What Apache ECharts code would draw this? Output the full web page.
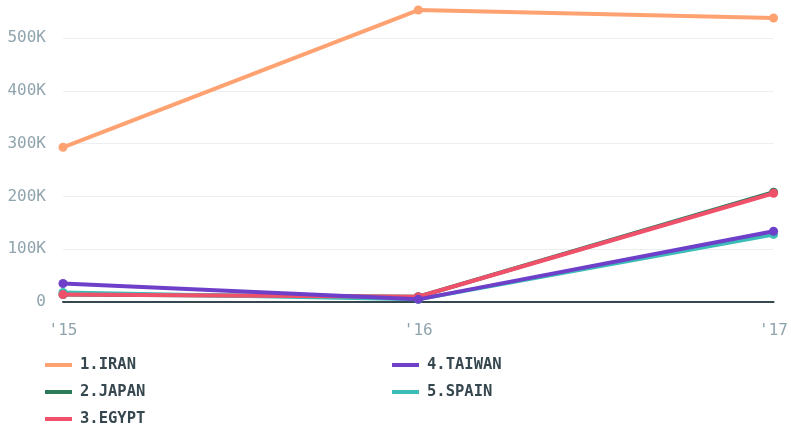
<!DOCTYPE html>
<html>
<head>
<meta charset="utf-8">
<script src="https://cdn.jsdelivr.net/npm/echarts@6/dist/echarts.min.js"></script>
<style>
  html, body { margin: 0; padding: 0; background: #fff; }
  #chart { width: 791px; height: 426px; }
</style>
</head>
<body>
<div id="chart"></div>
<script>
var years = ["'15", "'16", "'17"];
var iran = [293000, 553000, 538000];
var japan = [14000, 10000, 208000];
var egypt = [14000, 10000, 206000];
var taiwan = [35000, 5000, 134000];
var spain = [18000, 5000, 128000];

var names = ['1.IRAN', '2.JAPAN', '3.EGYPT', '4.TAIWAN', '5.SPAIN'];
var colors = ['#ffa272', '#2a7a5b', '#ef506a', '#6e3fc9', '#3dbdb8'];
var values = [iran, japan, egypt, taiwan, spain];
var zs = [2, 3, 5, 6, 4];

var font = 'DejaVu Sans Mono';

var chart = echarts.init(document.getElementById('chart'), null, { renderer: 'canvas' });

var series = names.map(function(n, i) {
  return {
    name: n,
    type: 'line',
    data: values[i],
    z: zs[i],
    symbol: 'circle',
    symbolSize: 9,
    lineStyle: { color: colors[i], width: 4 },
    itemStyle: { color: colors[i] }
  };
});

// one legend per item so the two-column layout stays put
var legendPos = [[40, 352], [40, 379], [40, 406], [387, 352], [387, 379]];
var legends = names.map(function(n, i) {
  return {
    data: [n],
    left: legendPos[i][0],
    top: legendPos[i][1],
    icon: 'rect',
    itemWidth: 27,
    itemHeight: 4,
    textStyle: { color: '#37474f', fontFamily: font, fontWeight: 'bold', fontSize: 15.5, padding: [0, 0, 0, 3] }
  };
});

chart.setOption({
  animation: false,
  color: colors,
  grid: { left: 63, right: 15, top: 0, bottom: 124 },
  legend: legends,
  xAxis: {
    type: 'category',
    data: years,
    boundaryGap: false,
    axisLine: { lineStyle: { color: '#37474f', width: 2 } },
    axisTick: { show: false },
    axisLabel: { color: '#90a4ae', fontFamily: font, fontSize: 16, margin: 21 },
    splitLine: { show: false }
  },
  yAxis: {
    type: 'value',
    min: 0,
    max: 572000,
    interval: 100000,
    axisLine: { show: false },
    axisTick: { show: false },
    axisLabel: {
      color: '#90a4ae', fontFamily: font, fontSize: 16, margin: 17, showMaxLabel: false,
      formatter: function(v) { return v === 0 ? '0' : (v / 1000) + 'K'; }
    },
    splitLine: { lineStyle: { color: ['#eceff1', '#eceff1', '#eceff1', '#eceff1', '#eceff1', '#eceff1', 'rgba(0,0,0,0)'], width: 1 } }
  },
  series: series
});
</script>
</body>
</html>
